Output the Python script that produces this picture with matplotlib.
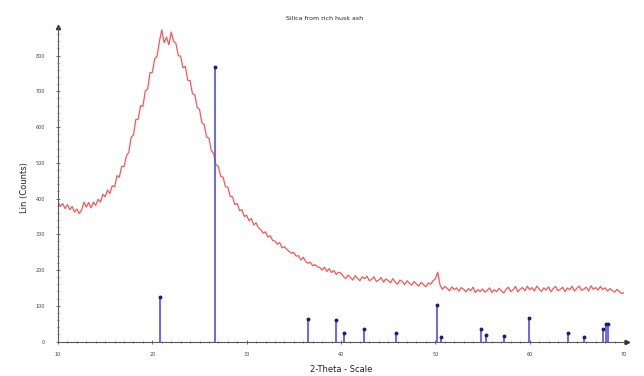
import numpy as np
import matplotlib
matplotlib.use("Agg")
import matplotlib.pyplot as plt
from matplotlib.ticker import MultipleLocator

# ---- data ----
theta_start = 10.0
theta_step = 0.25
counts = [
    392, 378, 386, 372, 383, 369, 378, 362, 371, 358,
    368, 390, 376, 389, 374, 390, 381, 398, 390, 412,
    405, 424, 414, 436, 433, 464, 460, 490, 489, 519,
    530, 571, 578, 621, 622, 660, 658, 701, 706, 752,
    753, 791, 798, 840, 872, 836, 852, 830, 866, 841,
    834, 800, 798, 766, 770, 731, 730, 694, 690, 655,
    650, 612, 607, 572, 569, 534, 526, 494, 490, 462,
    460, 433, 432, 406, 405, 383, 386, 366, 369, 350,
    353, 338, 344, 326, 332, 318, 313, 303, 307, 292,
    296, 283, 281, 272, 277, 262, 265, 258, 252, 247,
    249, 239, 240, 228, 236, 224, 219, 222, 212, 215,
    209, 207, 200, 208, 196, 204, 193, 199, 188, 194,
    191, 182, 176, 186, 179, 172, 184, 177, 170, 181,
    176, 183, 170, 174, 181, 168, 172, 179, 166, 175,
    171, 164, 176, 166, 160, 172, 168, 159, 170, 163,
    158, 168, 161, 155, 166, 159, 153, 164, 160, 170,
    175, 194, 158, 146, 154, 149, 142, 153, 145, 150,
    141, 151, 146, 139, 148, 142, 152, 137, 145, 140,
    147, 138, 143, 150, 137, 145, 139, 149, 142, 136,
    146, 152, 140, 145, 154, 139, 147, 151, 142, 155,
    145, 151, 141, 155, 147, 140, 150, 144, 153, 139,
    148, 154, 142, 146, 152, 139, 150, 145, 155, 141,
    149, 155, 143, 147, 152, 141, 156, 146, 151, 144,
    154, 145, 150, 141, 148, 143, 138, 146, 140, 134,
    137,
]
two_theta = theta_start + theta_step * np.arange(len(counts))

ref_pos = [20.86, 26.64, 36.54, 39.46, 40.29, 42.45, 45.79, 50.14, 50.62,
           54.87, 55.33, 57.24, 59.96, 64.03, 65.79, 67.74, 68.14, 68.31]
ref_int = [124, 767, 64, 59, 23, 35, 23, 101, 12,
           35, 19, 14, 65, 23, 12, 36, 50, 50]

title = "Silica from rich husk ash"
xlabel = "2-Theta - Scale"
ylabel = "Lin (Counts)"
xticks = [10, 20, 30, 40, 50, 60, 70]
yticks = [0, 100, 200, 300, 400, 500, 600, 700, 800]

# ---- figure ----
fig = plt.figure(figsize=(6.44, 3.76), dpi=100)
ax = fig.add_axes([58/644, 1-341.5/376, (624-58)/644, (341.5-27)/376])

ax.plot(two_theta, counts, color="#f23c3c", lw=0.9, alpha=0.85)
ax.vlines(ref_pos, 0, ref_int, color="#5050e6", lw=1.2)
ax.plot(ref_pos, ref_int, linestyle="none", marker="o", ms=1.8, color="#1c1c80")

ax.set_xlim(10, 70)
ax.set_ylim(0, 880)
ax.set_xticks(xticks)
ax.set_yticks(yticks)
ax.xaxis.set_minor_locator(MultipleLocator(1))
ax.yaxis.set_minor_locator(MultipleLocator(20))

for s in ["top", "right"]:
    ax.spines[s].set_visible(False)
for s in ["left", "bottom"]:
    ax.spines[s].set_color("#555566")
    ax.spines[s].set_linewidth(0.8)

ax.tick_params(axis="both", which="major", labelsize=3.5, colors="#555566",
               labelcolor="#444444", length=3, width=0.6, direction="inout")
ax.tick_params(axis="both", which="minor", colors="#555566", length=2,
               width=0.5, direction="inout")
ax.tick_params(axis="x", pad=6)
ax.tick_params(axis="y", pad=8)

# arrows on spines
ax.plot(1.005, 0, marker=">", ms=3, color="#333344", transform=ax.transAxes, clip_on=False)
ax.plot(0, 1.0, marker="^", ms=3, color="#333344", transform=ax.transAxes, clip_on=False)

fig.text(325/644, 1-19/376, title, ha="center", va="center", fontsize=4.5, color="#222222")
fig.text(341/644, 1-369/376, xlabel, ha="center", va="center", fontsize=6, color="#222222")
fig.text(25/644, 1-188/376, ylabel, ha="center", va="center", fontsize=6,
         rotation=90, color="#222222")

fig.savefig("out.png", dpi=100)
